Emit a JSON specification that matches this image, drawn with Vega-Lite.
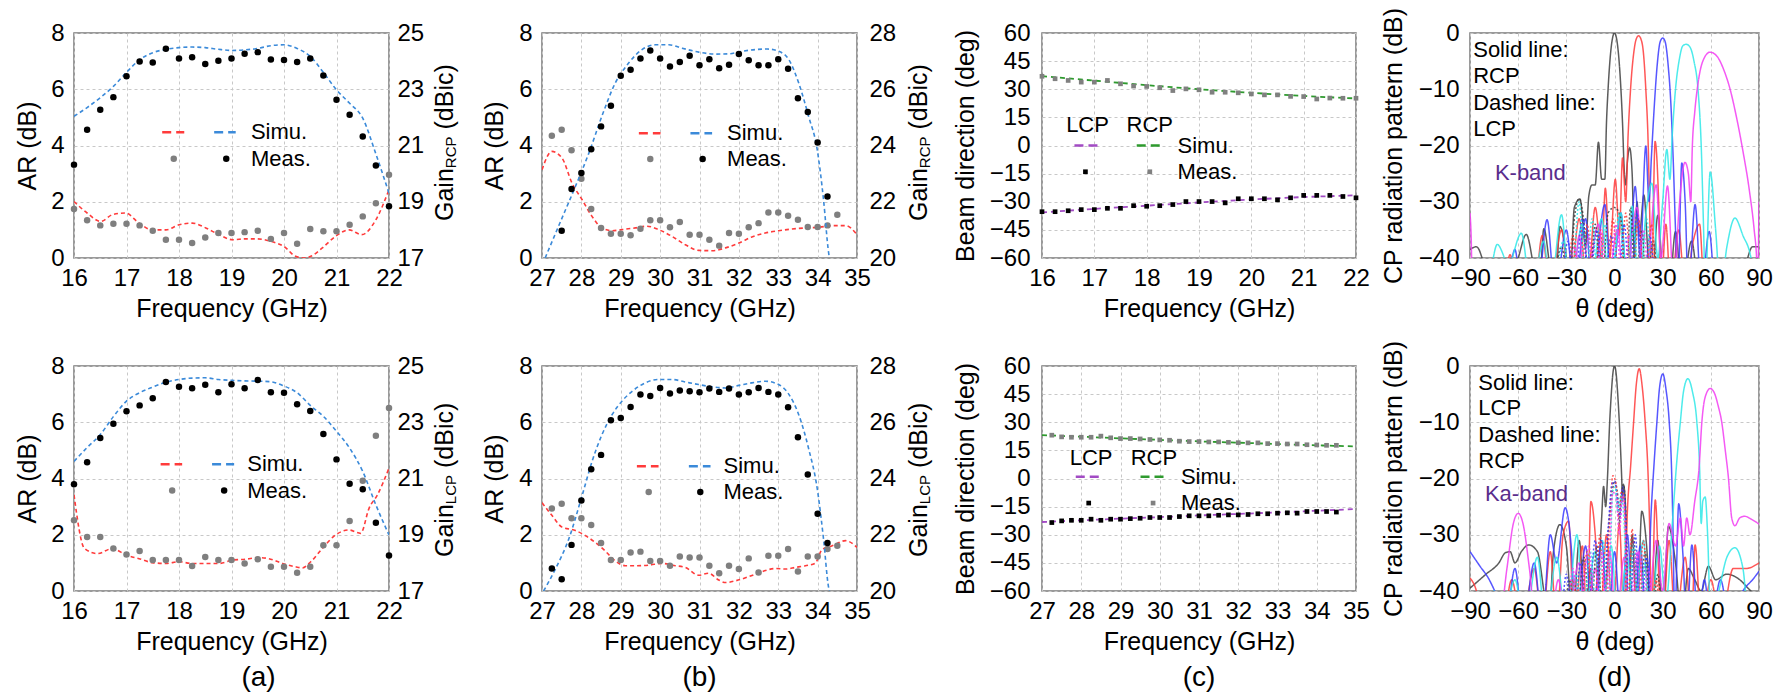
{
"$schema":"https://vega.github.io/schema/vega-lite/v6.json",
"background":"white",
"padding":{"left":14,"top":6,"right":5,"bottom":0},
"config":{
 "font":"Liberation Sans",
 "view":{"stroke":"#7a7a7a","strokeWidth":1.5},
 "axis":{"labelFontSize":24,"titleFontSize":25,"titleFontWeight":"normal","labelColor":"#000000","titleColor":"#000000","domain":false,"ticks":false,"tickSize":0,"grid":true,"gridColor":"#c8c8c8","gridDash":[3,3],"gridWidth":1,"labelFlush":false,"labelOverlap":false,"labelPadding":8,"titlePadding":6},
 "title":{"fontSize":28,"fontWeight":"normal","color":"#000000"}
},
"columns":7,
"spacing":{"row":108,"column":10},
"bounds":"flush",
"align":"each",
"concat":[
{"width":315,"height":225,
"encoding":{"x":{"field":"x","type":"quantitative","scale":{"domain":[16,22],"nice":false,"zero":false},"axis":{"title":"Frequency (GHz)","values":[16,17,18,19,20,21,22]}}},
"layer":[
{"encoding":{"y":{"field":"y","type":"quantitative","scale":{"domain":[0,8],"nice":false,"zero":false},"axis":{"title":"AR (dB)","values":[0,2,4,6,8],"labelPadding":10,"titlePadding":10}}},
"layer":[
{"data":{"values":[{"x":16,"y":2.01},{"x":16.25,"y":1.6},{"x":16.51,"y":1.3},{"x":16.73,"y":1.54},{"x":16.98,"y":1.6},{"x":17.24,"y":1.24},{"x":17.49,"y":1.0},{"x":17.75,"y":1.0},{"x":18.0,"y":1.18},{"x":18.25,"y":1.24},{"x":18.51,"y":1.07},{"x":18.76,"y":0.83},{"x":19.02,"y":0.65},{"x":19.27,"y":0.68},{"x":19.49,"y":0.68},{"x":19.75,"y":0.59},{"x":20.0,"y":0.41},{"x":20.22,"y":0.06},{"x":20.38,"y":0},{"x":20.51,"y":0.06},{"x":20.73,"y":0.36},{"x":20.98,"y":0.77},{"x":21.24,"y":1.0},{"x":21.48,"y":0.83},{"x":21.75,"y":1.36},{"x":22,"y":2.43}]},"mark":{"type":"line","color":"#ff3b3b","strokeDash":[4,3],"strokeWidth":1.6,"interpolate":"monotone","clip":true}},
{"data":{"values":[{"x":16,"y":1.74},{"x":16.25,"y":1.34},{"x":16.5,"y":1.16},{"x":16.75,"y":1.22},{"x":17,"y":1.22},{"x":17.25,"y":1.16},{"x":17.5,"y":0.97},{"x":17.75,"y":0.65},{"x":18,"y":0.65},{"x":18.25,"y":0.53},{"x":18.5,"y":0.73},{"x":18.75,"y":0.89},{"x":19,"y":0.89},{"x":19.25,"y":0.92},{"x":19.5,"y":0.97},{"x":19.75,"y":0.68},{"x":20,"y":0.89},{"x":20.25,"y":0.51},{"x":20.5,"y":1.03},{"x":20.75,"y":0.95},{"x":21,"y":0.95},{"x":21.25,"y":1.18},{"x":21.5,"y":1.48},{"x":21.75,"y":1.95},{"x":22,"y":2.96}]},"mark":{"type":"circle","color":"#7f7f7f","size":42,"opacity":1}},
{"data":{"values":[{"x":17.68,"x2":18.10,"y":4.47}]},"mark":{"type":"rule","color":"#ff3b3b","strokeDash":[9,5],"strokeWidth":2.5},"encoding":{"x2":{"field":"x2"}}},
{"data":{"values":[{"x":18.67,"x2":19.08,"y":4.47}]},"mark":{"type":"rule","color":"#3b8ad9","strokeDash":[9,5],"strokeWidth":2.5},"encoding":{"x2":{"field":"x2"}}},
{"data":{"values":[{"x":17.90,"y":3.53}]},"mark":{"type":"circle","color":"#7f7f7f","size":42,"opacity":1}},
{"data":{"values":[{"x":18.90,"y":3.53}]},"mark":{"type":"circle","color":"#000000","size":42,"opacity":1}},
{"data":{"values":[{"x":19.37,"y":4.47,"label":"Simu."},{"x":19.37,"y":3.53,"label":"Meas."}]},"mark":{"type":"text","align":"left","baseline":"middle","fontSize":22,"color":"#000000"},"encoding":{"text":{"field":"label"}}}
]},
{"encoding":{"y":{"field":"y","type":"quantitative","scale":{"domain":[17,25],"nice":false,"zero":false},"axis":{"orient":"right","title":null,"grid":false,"values":[17,19,21,23,25],"labelPadding":8}}},
"layer":[
{"data":{"values":[{"x":16,"y":22.04},{"x":16.25,"y":22.35},{"x":16.5,"y":22.7},{"x":16.75,"y":23.1},{"x":17,"y":23.6},{"x":17.25,"y":24.05},{"x":17.5,"y":24.3},{"x":17.75,"y":24.42},{"x":18,"y":24.48},{"x":18.25,"y":24.5},{"x":18.5,"y":24.48},{"x":18.75,"y":24.42},{"x":19,"y":24.38},{"x":19.25,"y":24.4},{"x":19.5,"y":24.45},{"x":19.75,"y":24.55},{"x":20,"y":24.58},{"x":20.25,"y":24.45},{"x":20.5,"y":24.17},{"x":20.75,"y":23.6},{"x":21,"y":22.98},{"x":21.25,"y":22.5},{"x":21.5,"y":21.97},{"x":21.75,"y":20.7},{"x":22,"y":19.3}]},"mark":{"type":"line","color":"#3b8ad9","strokeDash":[4,3],"strokeWidth":1.6,"interpolate":"monotone","clip":true}},
{"data":{"values":[{"x":16,"y":20.32},{"x":16.25,"y":21.56},{"x":16.5,"y":22.27},{"x":16.75,"y":22.72},{"x":17,"y":23.46},{"x":17.25,"y":23.99},{"x":17.5,"y":23.95},{"x":17.75,"y":24.44},{"x":18,"y":24.09},{"x":18.25,"y":24.14},{"x":18.5,"y":23.90},{"x":18.75,"y":24.01},{"x":19,"y":24.09},{"x":19.25,"y":24.26},{"x":19.5,"y":24.32},{"x":19.75,"y":24.06},{"x":20,"y":24.04},{"x":20.25,"y":23.97},{"x":20.5,"y":24.09},{"x":20.75,"y":23.49},{"x":21,"y":22.63},{"x":21.25,"y":22.09},{"x":21.5,"y":21.32},{"x":21.75,"y":20.29},{"x":22,"y":18.84}]},"mark":{"type":"circle","color":"#000000","size":42,"opacity":1}},
{"data":{"values":[{"x":23.067,"y":18.316,"label":"Gain"},{"x":23.067,"y":21.569,"label":"(dBic)"}]},"mark":{"type":"text","angle":270,"align":"left","baseline":"middle","fontSize":25,"color":"#000000"},"encoding":{"text":{"field":"label"}}},
{"data":{"values":[{"x":23.18,"y":20.193,"label":"RCP"}]},"mark":{"type":"text","angle":270,"align":"left","baseline":"middle","fontSize":15,"color":"#000000"},"encoding":{"text":{"field":"label"}}}
]}
],
"resolve":{"scale":{"y":"independent"}}
},
{"width":133,"height":225,"view":{"stroke":null},"data":{"values":[]},"mark":"point"},
{"width":315,"height":225,
"encoding":{"x":{"field":"x","type":"quantitative","scale":{"domain":[27,35],"nice":false,"zero":false},"axis":{"title":"Frequency (GHz)","values":[27,28,29,30,31,32,33,34,35]}}},
"layer":[
{"encoding":{"y":{"field":"y","type":"quantitative","scale":{"domain":[0,8],"nice":false,"zero":false},"axis":{"title":"AR (dB)","values":[0,2,4,6,8],"labelPadding":10,"titlePadding":11}}},
"layer":[
{"data":{"values":[{"x":27,"y":3.14},{"x":27.25,"y":3.79},{"x":27.51,"y":3.55},{"x":27.76,"y":2.67},{"x":28.02,"y":2.07},{"x":28.27,"y":1.48},{"x":28.52,"y":1.07},{"x":28.78,"y":0.97},{"x":29.03,"y":1.01},{"x":29.37,"y":1.07},{"x":29.67,"y":1.13},{"x":29.96,"y":1.01},{"x":30.3,"y":0.77},{"x":30.64,"y":0.47},{"x":30.98,"y":0.27},{"x":31.32,"y":0.26},{"x":31.66,"y":0.36},{"x":32.0,"y":0.53},{"x":32.33,"y":0.75},{"x":32.67,"y":0.89},{"x":33.01,"y":0.97},{"x":33.35,"y":1.03},{"x":33.69,"y":1.07},{"x":34.03,"y":1.09},{"x":34.37,"y":1.15},{"x":34.71,"y":1.15},{"x":35,"y":0.83}]},"mark":{"type":"line","color":"#ff3b3b","strokeDash":[4,3],"strokeWidth":1.6,"interpolate":"monotone","clip":true}},
{"data":{"values":[{"x":27.25,"y":4.35},{"x":27.5,"y":4.56},{"x":27.75,"y":3.83},{"x":28,"y":2.82},{"x":28.25,"y":1.74},{"x":28.5,"y":1.07},{"x":28.75,"y":0.86},{"x":29,"y":0.86},{"x":29.25,"y":0.81},{"x":29.5,"y":1.04},{"x":29.75,"y":1.34},{"x":30,"y":1.34},{"x":30.25,"y":1.09},{"x":30.5,"y":1.28},{"x":30.75,"y":0.83},{"x":31,"y":0.83},{"x":31.25,"y":0.65},{"x":31.5,"y":0.44},{"x":31.75,"y":0.89},{"x":32,"y":0.86},{"x":32.25,"y":1.09},{"x":32.5,"y":1.24},{"x":32.75,"y":1.62},{"x":33,"y":1.62},{"x":33.25,"y":1.50},{"x":33.5,"y":1.36},{"x":33.75,"y":1.10},{"x":34,"y":1.10},{"x":34.25,"y":1.16},{"x":34.5,"y":1.54}]},"mark":{"type":"circle","color":"#7f7f7f","size":42,"opacity":1}},
{"data":{"values":[{"x":29.46,"x2":30.01,"y":4.44}]},"mark":{"type":"rule","color":"#ff3b3b","strokeDash":[9,5],"strokeWidth":2.5},"encoding":{"x2":{"field":"x2"}}},
{"data":{"values":[{"x":30.77,"x2":31.32,"y":4.44}]},"mark":{"type":"rule","color":"#3b8ad9","strokeDash":[9,5],"strokeWidth":2.5},"encoding":{"x2":{"field":"x2"}}},
{"data":{"values":[{"x":29.75,"y":3.52}]},"mark":{"type":"circle","color":"#7f7f7f","size":42,"opacity":1}},
{"data":{"values":[{"x":31.08,"y":3.52}]},"mark":{"type":"circle","color":"#000000","size":42,"opacity":1}},
{"data":{"values":[{"x":31.70,"y":4.44,"label":"Simu."},{"x":31.70,"y":3.52,"label":"Meas."}]},"mark":{"type":"text","align":"left","baseline":"middle","fontSize":22,"color":"#000000"},"encoding":{"text":{"field":"label"}}}
]},
{"encoding":{"y":{"field":"y","type":"quantitative","scale":{"domain":[20,28],"nice":false,"zero":false},"axis":{"orient":"right","title":null,"grid":false,"values":[20,22,24,26,28],"labelPadding":12}}},
"layer":[
{"data":{"values":[{"x":27.08,"y":20.0},{"x":27.42,"y":21.13},{"x":27.85,"y":22.55},{"x":28.19,"y":23.73},{"x":28.52,"y":25.04},{"x":28.86,"y":26.22},{"x":29.2,"y":26.93},{"x":29.54,"y":27.41},{"x":29.88,"y":27.58},{"x":30.22,"y":27.58},{"x":30.56,"y":27.46},{"x":30.98,"y":27.32},{"x":31.4,"y":27.25},{"x":31.74,"y":27.26},{"x":32.08,"y":27.35},{"x":32.42,"y":27.41},{"x":32.72,"y":27.43},{"x":33.01,"y":27.35},{"x":33.27,"y":27.05},{"x":33.52,"y":26.22},{"x":33.77,"y":25.04},{"x":33.99,"y":23.85},{"x":34.15,"y":22.07},{"x":34.28,"y":20.18},{"x":34.3,"y":20.0}]},"mark":{"type":"line","color":"#3b8ad9","strokeDash":[4,3],"strokeWidth":1.6,"interpolate":"monotone","clip":true}},
{"data":{"values":[{"x":27.5,"y":20.97},{"x":27.75,"y":22.45},{"x":28,"y":23.02},{"x":28.25,"y":23.87},{"x":28.5,"y":24.68},{"x":28.75,"y":25.41},{"x":29,"y":26.48},{"x":29.25,"y":26.69},{"x":29.5,"y":27.09},{"x":29.75,"y":27.38},{"x":30,"y":27.09},{"x":30.25,"y":26.81},{"x":30.5,"y":26.97},{"x":30.75,"y":27.19},{"x":31,"y":26.85},{"x":31.25,"y":27.07},{"x":31.5,"y":26.75},{"x":31.75,"y":26.87},{"x":32,"y":27.25},{"x":32.25,"y":27.03},{"x":32.5,"y":26.85},{"x":32.75,"y":26.85},{"x":33,"y":27.07},{"x":33.25,"y":26.73},{"x":33.5,"y":25.68},{"x":33.75,"y":25.19},{"x":34,"y":24.11},{"x":34.25,"y":22.19}]},"mark":{"type":"circle","color":"#000000","size":42,"opacity":1}},
{"data":{"values":[{"x":36.575,"y":21.316,"label":"Gain"},{"x":36.575,"y":24.569,"label":"(dBic)"}]},"mark":{"type":"text","angle":270,"align":"left","baseline":"middle","fontSize":25,"color":"#000000"},"encoding":{"text":{"field":"label"}}},
{"data":{"values":[{"x":36.727,"y":23.193,"label":"RCP"}]},"mark":{"type":"text","angle":270,"align":"left","baseline":"middle","fontSize":15,"color":"#000000"},"encoding":{"text":{"field":"label"}}}
]}
],
"resolve":{"scale":{"y":"independent"}}
},
{"width":165,"height":225,"view":{"stroke":null},"data":{"values":[]},"mark":"point"},
{"width":314,"height":225,
"encoding":{"x":{"field":"x","type":"quantitative","scale":{"domain":[16,22],"nice":false,"zero":false},"axis":{"title":"Frequency (GHz)","values":[16,17,18,19,20,21,22]}},
"y":{"field":"y","type":"quantitative","scale":{"domain":[-60,60],"nice":false,"zero":false},"axis":{"title":"Beam direction (deg)","values":[-60,-45,-30,-15,0,15,30,45,60],"labelPadding":12,"titlePadding":11}}},
"layer":[
{"data":{"values":[{"x":16,"y":37},{"x":17,"y":34.6},{"x":18,"y":32.2},{"x":19,"y":30},{"x":20,"y":28.1},{"x":21,"y":26.4},{"x":22,"y":25.1}]},"mark":{"type":"line","color":"#2e9a2e","strokeDash":[5,4],"strokeWidth":1.8,"interpolate":"monotone"}},
{"data":{"values":[{"x":16,"y":-35.7},{"x":17,"y":-33.8},{"x":18,"y":-32.1},{"x":19,"y":-30.4},{"x":20,"y":-28.8},{"x":21,"y":-27.5},{"x":22,"y":-26.6}]},"mark":{"type":"line","color":"#a24bc4","strokeDash":[5,4],"strokeWidth":1.8,"interpolate":"monotone"}},
{"data":{"values":[{"x":16,"y":36.9},{"x":16.25,"y":35.6},{"x":16.5,"y":34.7},{"x":16.75,"y":33.8},{"x":17,"y":33.8},{"x":17.25,"y":34.7},{"x":17.5,"y":32.9},{"x":17.75,"y":31.7},{"x":18,"y":31.5},{"x":18.25,"y":30.8},{"x":18.5,"y":29.3},{"x":18.75,"y":30.2},{"x":19,"y":29.7},{"x":19.25,"y":28.4},{"x":19.5,"y":28.4},{"x":19.75,"y":28.1},{"x":20,"y":27.5},{"x":20.25,"y":27.0},{"x":20.5,"y":27.0},{"x":20.75,"y":26.2},{"x":21,"y":26.1},{"x":21.25,"y":24.8},{"x":21.5,"y":25.3},{"x":21.75,"y":25.2},{"x":22,"y":25.2}]},"mark":{"type":"square","color":"#808080","size":22,"opacity":1}},
{"data":{"values":[{"x":16,"y":-35.3},{"x":16.25,"y":-35.3},{"x":16.5,"y":-34.8},{"x":16.75,"y":-34.2},{"x":17,"y":-34.2},{"x":17.25,"y":-33.5},{"x":17.5,"y":-33.5},{"x":17.75,"y":-32.1},{"x":18,"y":-32.4},{"x":18.25,"y":-32.1},{"x":18.5,"y":-31.5},{"x":18.75,"y":-29.9},{"x":19,"y":-29.9},{"x":19.25,"y":-29.9},{"x":19.5,"y":-30.6},{"x":19.75,"y":-28.4},{"x":20,"y":-28.4},{"x":20.25,"y":-28.4},{"x":20.5,"y":-29.0},{"x":20.75,"y":-27.9},{"x":21,"y":-26.6},{"x":21.25,"y":-26.6},{"x":21.5,"y":-26.6},{"x":21.75,"y":-27.2},{"x":22,"y":-27.9}]},"mark":{"type":"square","color":"#000000","size":22,"opacity":1}},
{"data":{"values":[{"x":16.62,"x2":17.10,"y":0}]},"mark":{"type":"rule","color":"#a24bc4","strokeDash":[9,5],"strokeWidth":2.5},"encoding":{"x2":{"field":"x2"}}},
{"data":{"values":[{"x":17.81,"x2":18.33,"y":0}]},"mark":{"type":"rule","color":"#2e9a2e","strokeDash":[9,5],"strokeWidth":2.5},"encoding":{"x2":{"field":"x2"}}},
{"data":{"values":[{"x":16.83,"y":-14}]},"mark":{"type":"square","color":"#000000","size":22,"opacity":1}},
{"data":{"values":[{"x":18.06,"y":-14}]},"mark":{"type":"square","color":"#808080","size":22,"opacity":1}},
{"data":{"values":[{"x":16.87,"y":10.9,"label":"LCP"},{"x":18.06,"y":10.9,"label":"RCP"}]},"mark":{"type":"text","align":"center","baseline":"middle","fontSize":22,"color":"#000000"},"encoding":{"text":{"field":"label"}}},
{"data":{"values":[{"x":18.59,"y":0,"label":"Simu."},{"x":18.59,"y":-14,"label":"Meas."}]},"mark":{"type":"text","align":"left","baseline":"middle","fontSize":22,"color":"#000000"},"encoding":{"text":{"field":"label"}}}
]
},
{"width":94,"height":225,"view":{"stroke":null},"data":{"values":[]},"mark":"point"},
{"width":289,"height":225,
"encoding":{"x":{"field":"t","type":"quantitative","scale":{"domain":[-90,90],"nice":false,"zero":false},"axis":{"title":"θ (deg)","values":[-90,-60,-30,0,30,60,90]}},
"y":{"field":"v","type":"quantitative","scale":{"domain":[-40,0],"nice":false,"zero":false},"axis":{"title":"CP radiation pattern (dB)","values":[-40,-30,-20,-10,0],"labelPadding":11,"titlePadding":12}}},
"layer":[
{"data":{"values":[
{"t":-90,"v":-38.5,"c":"k","p":"co"},{"t":-86,"v":-38,"c":"k","p":"co"},{"t":-82,"v":-40.5,"c":"k","p":"co"},{"t":-78,"v":-46,"c":"k","p":"co"},{"t":-68,"v":-46,"c":"k","p":"co"},{"t":-60,"v":-40,"c":"k","p":"co"},{"t":-55,"v":-35.8,"c":"k","p":"co"},{"t":-50,"v":-42,"c":"k","p":"co"},{"t":-47,"v":-46,"c":"k","p":"co"},{"t":-44,"v":-34.8,"c":"k","p":"co"},{"t":-40,"v":-42,"c":"k","p":"co"},{"t":-37,"v":-46,"c":"k","p":"co"},{"t":-34,"v":-34.4,"c":"k","p":"co"},{"t":-30,"v":-40,"c":"k","p":"co"},{"t":-28,"v":-46,"c":"k","p":"co"},{"t":-25,"v":-31,"c":"k","p":"co"},{"t":-21.5,"v":-29.5,"c":"k","p":"co"},{"t":-18,"v":-38,"c":"k","p":"co"},{"t":-16,"v":-29,"c":"k","p":"co"},{"t":-14,"v":-27,"c":"k","p":"co"},{"t":-12,"v":-27,"c":"k","p":"co"},{"t":-10,"v":-19.4,"c":"k","p":"co"},{"t":-8,"v":-26,"c":"k","p":"co"},{"t":-6,"v":-26,"c":"k","p":"co"},{"t":-5,"v":-16,"c":"k","p":"co"},{"t":-4,"v":-10,"c":"k","p":"co"},{"t":-3,"v":-5.5,"c":"k","p":"co"},{"t":-2,"v":-2.4,"c":"k","p":"co"},{"t":-1,"v":-0.6,"c":"k","p":"co"},{"t":0,"v":0,"c":"k","p":"co"},{"t":1,"v":-0.6,"c":"k","p":"co"},{"t":2,"v":-2.4,"c":"k","p":"co"},{"t":3,"v":-5.5,"c":"k","p":"co"},{"t":4,"v":-10,"c":"k","p":"co"},{"t":5,"v":-16,"c":"k","p":"co"},{"t":6,"v":-24,"c":"k","p":"co"},{"t":7,"v":-27,"c":"k","p":"co"},{"t":8,"v":-23,"c":"k","p":"co"},{"t":9.4,"v":-20.4,"c":"k","p":"co"},{"t":11,"v":-25,"c":"k","p":"co"},{"t":12.5,"v":-40,"c":"k","p":"co"},{"t":14,"v":-30,"c":"k","p":"co"},{"t":15.5,"v":-36,"c":"k","p":"co"},{"t":18.3,"v":-28.8,"c":"k","p":"co"},{"t":21,"v":-40,"c":"k","p":"co"},{"t":23,"v":-46,"c":"k","p":"co"},{"t":27,"v":-32.4,"c":"k","p":"co"},{"t":31,"v":-46,"c":"k","p":"co"},{"t":34,"v":-46,"c":"k","p":"co"},{"t":38,"v":-35.3,"c":"k","p":"co"},{"t":42,"v":-46,"c":"k","p":"co"},{"t":48,"v":-37,"c":"k","p":"co"},{"t":53,"v":-46,"c":"k","p":"co"},{"t":57,"v":-40,"c":"k","p":"co"},{"t":62,"v":-46,"c":"k","p":"co"},{"t":78,"v":-46,"c":"k","p":"co"},{"t":82,"v":-41,"c":"k","p":"co"},{"t":86,"v":-38,"c":"k","p":"co"},{"t":90,"v":-38,"c":"k","p":"co"},
{"t":-90,"v":-46,"c":"r","p":"co"},{"t":-70,"v":-46,"c":"r","p":"co"},{"t":-65,"v":-39.4,"c":"r","p":"co"},{"t":-61,"v":-46,"c":"r","p":"co"},{"t":-50,"v":-46,"c":"r","p":"co"},{"t":-45,"v":-36,"c":"r","p":"co"},{"t":-40,"v":-46,"c":"r","p":"co"},{"t":-33,"v":-35,"c":"r","p":"co"},{"t":-28,"v":-46,"c":"r","p":"co"},{"t":-22,"v":-33,"c":"r","p":"co"},{"t":-17,"v":-46,"c":"r","p":"co"},{"t":-12,"v":-31,"c":"r","p":"co"},{"t":-8,"v":-40,"c":"r","p":"co"},{"t":-5.7,"v":-27.6,"c":"r","p":"co"},{"t":-3,"v":-40,"c":"r","p":"co"},{"t":0.5,"v":-26,"c":"r","p":"co"},{"t":3,"v":-36,"c":"r","p":"co"},{"t":5,"v":-22.2,"c":"r","p":"co"},{"t":7,"v":-30,"c":"r","p":"co"},{"t":8.5,"v":-18,"c":"r","p":"co"},{"t":10,"v":-10,"c":"r","p":"co"},{"t":12,"v":-3.5,"c":"r","p":"co"},{"t":13.5,"v":-1.1,"c":"r","p":"co"},{"t":15,"v":-0.5,"c":"r","p":"co"},{"t":16.5,"v":-1.1,"c":"r","p":"co"},{"t":18,"v":-3.5,"c":"r","p":"co"},{"t":19.5,"v":-10,"c":"r","p":"co"},{"t":21,"v":-20,"c":"r","p":"co"},{"t":22,"v":-33,"c":"r","p":"co"},{"t":23,"v":-46,"c":"r","p":"co"},{"t":25.3,"v":-19.3,"c":"r","p":"co"},{"t":27.5,"v":-30,"c":"r","p":"co"},{"t":29,"v":-46,"c":"r","p":"co"},{"t":32,"v":-34,"c":"r","p":"co"},{"t":35,"v":-46,"c":"r","p":"co"},{"t":40,"v":-35,"c":"r","p":"co"},{"t":44,"v":-46,"c":"r","p":"co"},{"t":49,"v":-37,"c":"r","p":"co"},{"t":53,"v":-34,"c":"r","p":"co"},{"t":56,"v":-46,"c":"r","p":"co"},{"t":90,"v":-46,"c":"r","p":"co"},
{"t":-90,"v":-46,"c":"b","p":"co"},{"t":-68,"v":-46,"c":"b","p":"co"},{"t":-62,"v":-38.5,"c":"b","p":"co"},{"t":-58,"v":-46,"c":"b","p":"co"},{"t":-48,"v":-46,"c":"b","p":"co"},{"t":-42,"v":-33.2,"c":"b","p":"co"},{"t":-37,"v":-46,"c":"b","p":"co"},{"t":-30,"v":-35,"c":"b","p":"co"},{"t":-25,"v":-46,"c":"b","p":"co"},{"t":-18,"v":-33,"c":"b","p":"co"},{"t":-14,"v":-46,"c":"b","p":"co"},{"t":-6,"v":-30.5,"c":"b","p":"co"},{"t":-2,"v":-46,"c":"b","p":"co"},{"t":4,"v":-32,"c":"b","p":"co"},{"t":8,"v":-46,"c":"b","p":"co"},{"t":12.9,"v":-27.3,"c":"b","p":"co"},{"t":16,"v":-40,"c":"b","p":"co"},{"t":19.5,"v":-20.1,"c":"b","p":"co"},{"t":21.5,"v":-30,"c":"b","p":"co"},{"t":23,"v":-22,"c":"b","p":"co"},{"t":25,"v":-12,"c":"b","p":"co"},{"t":26.5,"v":-6,"c":"b","p":"co"},{"t":28.5,"v":-1.5,"c":"b","p":"co"},{"t":30,"v":-0.9,"c":"b","p":"co"},{"t":31.5,"v":-1.5,"c":"b","p":"co"},{"t":33.5,"v":-6,"c":"b","p":"co"},{"t":35,"v":-12,"c":"b","p":"co"},{"t":36.5,"v":-22,"c":"b","p":"co"},{"t":38,"v":-35,"c":"b","p":"co"},{"t":39.5,"v":-46,"c":"b","p":"co"},{"t":41.9,"v":-23.1,"c":"b","p":"co"},{"t":44,"v":-30,"c":"b","p":"co"},{"t":46,"v":-46,"c":"b","p":"co"},{"t":50.2,"v":-30.5,"c":"b","p":"co"},{"t":54,"v":-46,"c":"b","p":"co"},{"t":59,"v":-35.3,"c":"b","p":"co"},{"t":63,"v":-46,"c":"b","p":"co"},{"t":90,"v":-46,"c":"b","p":"co"},
{"t":-90,"v":-46,"c":"c","p":"co"},{"t":-80,"v":-46,"c":"c","p":"co"},{"t":-73,"v":-37.6,"c":"c","p":"co"},{"t":-66,"v":-41,"c":"c","p":"co"},{"t":-58,"v":-35.6,"c":"c","p":"co"},{"t":-52,"v":-46,"c":"c","p":"co"},{"t":-44,"v":-37,"c":"c","p":"co"},{"t":-40,"v":-46,"c":"c","p":"co"},{"t":-33,"v":-32.3,"c":"c","p":"co"},{"t":-28,"v":-46,"c":"c","p":"co"},{"t":-20,"v":-34,"c":"c","p":"co"},{"t":-15,"v":-46,"c":"c","p":"co"},{"t":-8,"v":-33,"c":"c","p":"co"},{"t":-3,"v":-46,"c":"c","p":"co"},{"t":4,"v":-32,"c":"c","p":"co"},{"t":8,"v":-46,"c":"c","p":"co"},{"t":11,"v":-30.8,"c":"c","p":"co"},{"t":15,"v":-46,"c":"c","p":"co"},{"t":20,"v":-31,"c":"c","p":"co"},{"t":23.2,"v":-26.7,"c":"c","p":"co"},{"t":27,"v":-40,"c":"c","p":"co"},{"t":30,"v":-30,"c":"c","p":"co"},{"t":32.6,"v":-20.7,"c":"c","p":"co"},{"t":34.5,"v":-26,"c":"c","p":"co"},{"t":36,"v":-18,"c":"c","p":"co"},{"t":38,"v":-10,"c":"c","p":"co"},{"t":40.5,"v":-4.5,"c":"c","p":"co"},{"t":42.5,"v":-2.3,"c":"c","p":"co"},{"t":44.6,"v":-2,"c":"c","p":"co"},{"t":47,"v":-2.5,"c":"c","p":"co"},{"t":49.5,"v":-5,"c":"c","p":"co"},{"t":52,"v":-10,"c":"c","p":"co"},{"t":54,"v":-20,"c":"c","p":"co"},{"t":55.5,"v":-35,"c":"c","p":"co"},{"t":56.5,"v":-46,"c":"c","p":"co"},{"t":59.6,"v":-24.7,"c":"c","p":"co"},{"t":63,"v":-35,"c":"c","p":"co"},{"t":66,"v":-46,"c":"c","p":"co"},{"t":70,"v":-38,"c":"c","p":"co"},{"t":75,"v":-32.9,"c":"c","p":"co"},{"t":80,"v":-36,"c":"c","p":"co"},{"t":85,"v":-40,"c":"c","p":"co"},{"t":88,"v":-46,"c":"c","p":"co"},{"t":90,"v":-46,"c":"c","p":"co"},
{"t":-90,"v":-32,"c":"m","p":"co"},{"t":-89.3,"v":-36,"c":"m","p":"co"},{"t":-88.5,"v":-46,"c":"m","p":"co"},{"t":-50,"v":-46,"c":"m","p":"co"},{"t":-44,"v":-40,"c":"m","p":"co"},{"t":-38,"v":-46,"c":"m","p":"co"},{"t":-26,"v":-46,"c":"m","p":"co"},{"t":-22,"v":-36,"c":"m","p":"co"},{"t":-18,"v":-46,"c":"m","p":"co"},{"t":-10,"v":-34,"c":"m","p":"co"},{"t":-5,"v":-46,"c":"m","p":"co"},{"t":2,"v":-35,"c":"m","p":"co"},{"t":6,"v":-46,"c":"m","p":"co"},{"t":14,"v":-31,"c":"m","p":"co"},{"t":19,"v":-46,"c":"m","p":"co"},{"t":26,"v":-27,"c":"m","p":"co"},{"t":29,"v":-40,"c":"m","p":"co"},{"t":33,"v":-27.2,"c":"m","p":"co"},{"t":37,"v":-46,"c":"m","p":"co"},{"t":40,"v":-32,"c":"m","p":"co"},{"t":43.9,"v":-23,"c":"m","p":"co"},{"t":46,"v":-25,"c":"m","p":"co"},{"t":47.5,"v":-30,"c":"m","p":"co"},{"t":48.5,"v":-20,"c":"m","p":"co"},{"t":50,"v":-14,"c":"m","p":"co"},{"t":52,"v":-9,"c":"m","p":"co"},{"t":55,"v":-5,"c":"m","p":"co"},{"t":59.5,"v":-3.4,"c":"m","p":"co"},{"t":64,"v":-4.2,"c":"m","p":"co"},{"t":68,"v":-6.5,"c":"m","p":"co"},{"t":72,"v":-10,"c":"m","p":"co"},{"t":76,"v":-15,"c":"m","p":"co"},{"t":80,"v":-21,"c":"m","p":"co"},{"t":84,"v":-28,"c":"m","p":"co"},{"t":87,"v":-35,"c":"m","p":"co"},{"t":88.5,"v":-40,"c":"m","p":"co"},{"t":89.3,"v":-46,"c":"m","p":"co"},{"t":89.8,"v":-35,"c":"m","p":"co"},{"t":90,"v":-30,"c":"m","p":"co"},
{"t":-90,"v":-46,"c":"k","p":"x"},{"t":-40,"v":-46,"c":"k","p":"x"},{"t":-33,"v":-38,"c":"k","p":"x"},{"t":-28,"v":-46,"c":"k","p":"x"},{"t":-25,"v":-33,"c":"k","p":"x"},{"t":-22,"v":-29.5,"c":"k","p":"x"},{"t":-19,"v":-34,"c":"k","p":"x"},{"t":-16,"v":-46,"c":"k","p":"x"},{"t":-12,"v":-34,"c":"k","p":"x"},{"t":-8,"v":-46,"c":"k","p":"x"},{"t":-4,"v":-32,"c":"k","p":"x"},{"t":0,"v":-31,"c":"k","p":"x"},{"t":4,"v":-33,"c":"k","p":"x"},{"t":7,"v":-46,"c":"k","p":"x"},{"t":10,"v":-31,"c":"k","p":"x"},{"t":13,"v":-46,"c":"k","p":"x"},{"t":17,"v":-35,"c":"k","p":"x"},{"t":20,"v":-46,"c":"k","p":"x"},{"t":24,"v":-37,"c":"k","p":"x"},{"t":28,"v":-46,"c":"k","p":"x"},{"t":90,"v":-46,"c":"k","p":"x"},
{"t":-90,"v":-46,"c":"r","p":"x"},{"t":-30,"v":-46,"c":"r","p":"x"},{"t":-26,"v":-36,"c":"r","p":"x"},{"t":-22,"v":-46,"c":"r","p":"x"},{"t":-17,"v":-34,"c":"r","p":"x"},{"t":-13,"v":-46,"c":"r","p":"x"},{"t":-9,"v":-35,"c":"r","p":"x"},{"t":-5,"v":-46,"c":"r","p":"x"},{"t":-1,"v":-33,"c":"r","p":"x"},{"t":3,"v":-46,"c":"r","p":"x"},{"t":7,"v":-32,"c":"r","p":"x"},{"t":11,"v":-46,"c":"r","p":"x"},{"t":15,"v":-33,"c":"r","p":"x"},{"t":19,"v":-46,"c":"r","p":"x"},{"t":23,"v":-34,"c":"r","p":"x"},{"t":27,"v":-46,"c":"r","p":"x"},{"t":90,"v":-46,"c":"r","p":"x"},
{"t":-90,"v":-46,"c":"b","p":"x"},{"t":-34,"v":-46,"c":"b","p":"x"},{"t":-29,"v":-37,"c":"b","p":"x"},{"t":-25,"v":-46,"c":"b","p":"x"},{"t":-20,"v":-33,"c":"b","p":"x"},{"t":-16,"v":-46,"c":"b","p":"x"},{"t":-11,"v":-35,"c":"b","p":"x"},{"t":-7,"v":-46,"c":"b","p":"x"},{"t":-2,"v":-36,"c":"b","p":"x"},{"t":2,"v":-46,"c":"b","p":"x"},{"t":6,"v":-34,"c":"b","p":"x"},{"t":10,"v":-46,"c":"b","p":"x"},{"t":14,"v":-32,"c":"b","p":"x"},{"t":18,"v":-46,"c":"b","p":"x"},{"t":22,"v":-36,"c":"b","p":"x"},{"t":26,"v":-46,"c":"b","p":"x"},{"t":90,"v":-46,"c":"b","p":"x"},
{"t":-90,"v":-46,"c":"c","p":"x"},{"t":-38,"v":-46,"c":"c","p":"x"},{"t":-32,"v":-37,"c":"c","p":"x"},{"t":-27,"v":-46,"c":"c","p":"x"},{"t":-22,"v":-30,"c":"c","p":"x"},{"t":-18,"v":-46,"c":"c","p":"x"},{"t":-14,"v":-33,"c":"c","p":"x"},{"t":-10,"v":-46,"c":"c","p":"x"},{"t":-6,"v":-34,"c":"c","p":"x"},{"t":-2,"v":-46,"c":"c","p":"x"},{"t":3,"v":-32,"c":"c","p":"x"},{"t":7,"v":-46,"c":"c","p":"x"},{"t":12,"v":-35,"c":"c","p":"x"},{"t":16,"v":-46,"c":"c","p":"x"},{"t":20,"v":-33,"c":"c","p":"x"},{"t":24,"v":-46,"c":"c","p":"x"},{"t":90,"v":-46,"c":"c","p":"x"},
{"t":-90,"v":-46,"c":"m","p":"x"},{"t":-30,"v":-46,"c":"m","p":"x"},{"t":-25,"v":-38,"c":"m","p":"x"},{"t":-21,"v":-46,"c":"m","p":"x"},{"t":-16,"v":-36,"c":"m","p":"x"},{"t":-12,"v":-46,"c":"m","p":"x"},{"t":-8,"v":-35,"c":"m","p":"x"},{"t":-4,"v":-46,"c":"m","p":"x"},{"t":1,"v":-34,"c":"m","p":"x"},{"t":5,"v":-46,"c":"m","p":"x"},{"t":9,"v":-36,"c":"m","p":"x"},{"t":13,"v":-46,"c":"m","p":"x"},{"t":18,"v":-35,"c":"m","p":"x"},{"t":22,"v":-46,"c":"m","p":"x"},{"t":90,"v":-46,"c":"m","p":"x"}
]},
"mark":{"type":"line","strokeWidth":1.5,"clip":true,"interpolate":"monotone","opacity":0.85},
"encoding":{"color":{"field":"c","type":"nominal","scale":{"domain":["k","r","b","c","m"],"range":["#404040","#ff3a3a","#3a3aff","#2ee8e8","#f23cf2"]},"legend":null},
"strokeDash":{"field":"p","type":"nominal","scale":{"domain":["co","x"],"range":[[1,0],[2,2]]},"legend":null}}},
{"data":{"values":[{"t":-88,"v":-3.1,"label":"Solid line:"},{"t":-88,"v":-7.6,"label":"RCP"},{"t":-88,"v":-12.4,"label":"Dashed line:"},{"t":-88,"v":-17.1,"label":"LCP"}]},"mark":{"type":"text","align":"left","baseline":"middle","fontSize":22,"color":"#000000"},"encoding":{"text":{"field":"label"}}},
{"data":{"values":[{"t":-74.5,"v":-24.9,"label":"K-band"}]},"mark":{"type":"text","align":"left","baseline":"middle","fontSize":22,"color":"#5a2d8c"},"encoding":{"text":{"field":"label"}}}
]
},
{"width":315,"height":225,
"title":{"text":"(a)","orient":"bottom","anchor":"middle","frame":"group","offset":10,"dx":27,"fontSize":28,"fontWeight":"normal"},
"encoding":{"x":{"field":"x","type":"quantitative","scale":{"domain":[16,22],"nice":false,"zero":false},"axis":{"title":"Frequency (GHz)","values":[16,17,18,19,20,21,22]}}},
"layer":[
{"encoding":{"y":{"field":"y","type":"quantitative","scale":{"domain":[0,8],"nice":false,"zero":false},"axis":{"title":"AR (dB)","values":[0,2,4,6,8],"labelPadding":10,"titlePadding":10}}},
"layer":[
{"data":{"values":[{"x":16,"y":3.42},{"x":16.2,"y":1.51},{"x":16.45,"y":1.33},{"x":16.73,"y":1.51},{"x":17.0,"y":1.27},{"x":17.24,"y":1.15},{"x":17.49,"y":1.01},{"x":17.75,"y":0.98},{"x":18,"y":1.04},{"x":18.25,"y":0.98},{"x":18.51,"y":0.98},{"x":18.76,"y":0.98},{"x":19.02,"y":1.10},{"x":19.27,"y":1.13},{"x":19.5,"y":1.19},{"x":19.71,"y":1.15},{"x":19.97,"y":0.98},{"x":20.22,"y":0.86},{"x":20.35,"y":0.82},{"x":20.51,"y":1.04},{"x":20.73,"y":1.51},{"x":20.98,"y":1.99},{"x":21.24,"y":2.17},{"x":21.46,"y":2.05},{"x":21.62,"y":2.94},{"x":21.78,"y":3.42},{"x":22,"y":4.37}]},"mark":{"type":"line","color":"#ff3b3b","strokeDash":[4,3],"strokeWidth":1.6,"interpolate":"monotone","clip":true}},
{"data":{"values":[{"x":16,"y":2.52},{"x":16.25,"y":1.92},{"x":16.5,"y":1.92},{"x":16.75,"y":1.51},{"x":17,"y":1.30},{"x":17.25,"y":1.42},{"x":17.5,"y":1.10},{"x":17.75,"y":1.10},{"x":18,"y":1.10},{"x":18.25,"y":0.89},{"x":18.5,"y":1.21},{"x":18.75,"y":1.10},{"x":19,"y":1.10},{"x":19.25,"y":0.98},{"x":19.5,"y":1.13},{"x":19.75,"y":0.86},{"x":20,"y":0.86},{"x":20.25,"y":0.65},{"x":20.5,"y":0.86},{"x":20.75,"y":1.63},{"x":21,"y":1.63},{"x":21.25,"y":2.49},{"x":21.5,"y":3.92},{"x":21.75,"y":5.52},{"x":22,"y":6.51}]},"mark":{"type":"circle","color":"#7f7f7f","size":42,"opacity":1}},
{"data":{"values":[{"x":17.65,"x2":18.06,"y":4.51}]},"mark":{"type":"rule","color":"#ff3b3b","strokeDash":[9,5],"strokeWidth":2.5},"encoding":{"x2":{"field":"x2"}}},
{"data":{"values":[{"x":18.63,"x2":19.05,"y":4.51}]},"mark":{"type":"rule","color":"#3b8ad9","strokeDash":[9,5],"strokeWidth":2.5},"encoding":{"x2":{"field":"x2"}}},
{"data":{"values":[{"x":17.87,"y":3.57}]},"mark":{"type":"circle","color":"#7f7f7f","size":42,"opacity":1}},
{"data":{"values":[{"x":18.86,"y":3.57}]},"mark":{"type":"circle","color":"#000000","size":42,"opacity":1}},
{"data":{"values":[{"x":19.30,"y":4.51,"label":"Simu."},{"x":19.30,"y":3.57,"label":"Meas."}]},"mark":{"type":"text","align":"left","baseline":"middle","fontSize":22,"color":"#000000"},"encoding":{"text":{"field":"label"}}}
]},
{"encoding":{"y":{"field":"y","type":"quantitative","scale":{"domain":[17,25],"nice":false,"zero":false},"axis":{"orient":"right","title":null,"grid":false,"values":[17,19,21,23,25],"labelPadding":8}}},
"layer":[
{"data":{"values":[{"x":16,"y":21.61},{"x":16.25,"y":22.1},{"x":16.5,"y":22.56},{"x":16.75,"y":23.2},{"x":17,"y":23.75},{"x":17.25,"y":24.05},{"x":17.5,"y":24.25},{"x":17.75,"y":24.42},{"x":18,"y":24.52},{"x":18.25,"y":24.57},{"x":18.5,"y":24.58},{"x":18.75,"y":24.52},{"x":19,"y":24.49},{"x":19.25,"y":24.47},{"x":19.5,"y":24.46},{"x":19.75,"y":24.44},{"x":20,"y":24.29},{"x":20.25,"y":24.05},{"x":20.5,"y":23.6},{"x":20.75,"y":23.21},{"x":21,"y":22.68},{"x":21.25,"y":22.08},{"x":21.5,"y":21.25},{"x":21.75,"y":20.06},{"x":22,"y":18.99}]},"mark":{"type":"line","color":"#3b8ad9","strokeDash":[4,3],"strokeWidth":1.6,"interpolate":"monotone","clip":true}},
{"data":{"values":[{"x":16,"y":20.80},{"x":16.25,"y":21.58},{"x":16.5,"y":22.44},{"x":16.75,"y":22.95},{"x":17,"y":23.39},{"x":17.25,"y":23.60},{"x":17.5,"y":23.85},{"x":17.75,"y":24.43},{"x":18,"y":24.26},{"x":18.25,"y":24.21},{"x":18.5,"y":24.33},{"x":18.75,"y":24.07},{"x":19,"y":24.35},{"x":19.25,"y":24.21},{"x":19.5,"y":24.50},{"x":19.75,"y":24.07},{"x":20,"y":24.05},{"x":20.25,"y":23.64},{"x":20.5,"y":23.40},{"x":20.75,"y":22.58},{"x":21,"y":21.68},{"x":21.25,"y":20.81},{"x":21.5,"y":20.62},{"x":21.75,"y":19.43},{"x":22,"y":18.26}]},"mark":{"type":"circle","color":"#000000","size":42,"opacity":1}},
{"data":{"values":[{"x":23.067,"y":18.209,"label":"Gain"},{"x":23.067,"y":21.373,"label":"(dBic)"}]},"mark":{"type":"text","angle":270,"align":"left","baseline":"middle","fontSize":25,"color":"#000000"},"encoding":{"text":{"field":"label"}}},
{"data":{"values":[{"x":23.18,"y":20.086,"label":"LCP"}]},"mark":{"type":"text","angle":270,"align":"left","baseline":"middle","fontSize":15,"color":"#000000"},"encoding":{"text":{"field":"label"}}}
]}
],
"resolve":{"scale":{"y":"independent"}}
},
{"width":133,"height":225,"view":{"stroke":null},"data":{"values":[]},"mark":"point"},
{"width":315,"height":225,
"title":{"text":"(b)","orient":"bottom","anchor":"middle","frame":"group","offset":10,"fontSize":28,"fontWeight":"normal"},
"encoding":{"x":{"field":"x","type":"quantitative","scale":{"domain":[27,35],"nice":false,"zero":false},"axis":{"title":"Frequency (GHz)","values":[27,28,29,30,31,32,33,34,35]}}},
"layer":[
{"encoding":{"y":{"field":"y","type":"quantitative","scale":{"domain":[0,8],"nice":false,"zero":false},"axis":{"title":"AR (dB)","values":[0,2,4,6,8],"labelPadding":10,"titlePadding":11}}},
"layer":[
{"data":{"values":[{"x":27,"y":3.14},{"x":27.25,"y":2.69},{"x":27.51,"y":2.27},{"x":27.85,"y":2.15},{"x":28.1,"y":1.97},{"x":28.35,"y":1.73},{"x":28.6,"y":1.43},{"x":28.86,"y":1.07},{"x":29.12,"y":0.90},{"x":29.37,"y":0.90},{"x":29.71,"y":0.92},{"x":30.05,"y":0.98},{"x":30.39,"y":0.90},{"x":30.64,"y":0.84},{"x":30.98,"y":0.56},{"x":31.23,"y":0.63},{"x":31.49,"y":0.39},{"x":31.66,"y":0.30},{"x":31.91,"y":0.36},{"x":32.25,"y":0.51},{"x":32.59,"y":0.69},{"x":32.93,"y":0.80},{"x":33.18,"y":0.78},{"x":33.44,"y":0.84},{"x":33.69,"y":0.90},{"x":33.94,"y":0.99},{"x":34.11,"y":1.47},{"x":34.37,"y":1.61},{"x":34.71,"y":1.79},{"x":35,"y":1.55}]},"mark":{"type":"line","color":"#ff3b3b","strokeDash":[4,3],"strokeWidth":1.6,"interpolate":"monotone","clip":true}},
{"data":{"values":[{"x":27.25,"y":2.93},{"x":27.5,"y":3.10},{"x":27.75,"y":2.59},{"x":28,"y":2.59},{"x":28.25,"y":2.35},{"x":28.5,"y":1.71},{"x":28.75,"y":1.10},{"x":29,"y":1.10},{"x":29.25,"y":1.37},{"x":29.5,"y":1.40},{"x":29.75,"y":1.07},{"x":30,"y":1.07},{"x":30.25,"y":0.90},{"x":30.5,"y":1.23},{"x":30.75,"y":1.19},{"x":31,"y":1.19},{"x":31.25,"y":0.90},{"x":31.5,"y":0.63},{"x":31.75,"y":0.90},{"x":32,"y":0.78},{"x":32.25,"y":1.16},{"x":32.5,"y":0.66},{"x":32.75,"y":1.25},{"x":33,"y":1.25},{"x":33.25,"y":1.49},{"x":33.5,"y":0.69},{"x":33.75,"y":1.23},{"x":34,"y":1.23},{"x":34.25,"y":1.49},{"x":34.5,"y":1.61}]},"mark":{"type":"circle","color":"#7f7f7f","size":42,"opacity":1}},
{"data":{"values":[{"x":29.41,"x2":29.96,"y":4.44}]},"mark":{"type":"rule","color":"#ff3b3b","strokeDash":[9,5],"strokeWidth":2.5},"encoding":{"x2":{"field":"x2"}}},
{"data":{"values":[{"x":30.73,"x2":31.28,"y":4.44}]},"mark":{"type":"rule","color":"#3b8ad9","strokeDash":[9,5],"strokeWidth":2.5},"encoding":{"x2":{"field":"x2"}}},
{"data":{"values":[{"x":29.71,"y":3.52}]},"mark":{"type":"circle","color":"#7f7f7f","size":42,"opacity":1}},
{"data":{"values":[{"x":31.02,"y":3.52}]},"mark":{"type":"circle","color":"#000000","size":42,"opacity":1}},
{"data":{"values":[{"x":31.61,"y":4.44,"label":"Simu."},{"x":31.61,"y":3.52,"label":"Meas."}]},"mark":{"type":"text","align":"left","baseline":"middle","fontSize":22,"color":"#000000"},"encoding":{"text":{"field":"label"}}}
]},
{"encoding":{"y":{"field":"y","type":"quantitative","scale":{"domain":[20,28],"nice":false,"zero":false},"axis":{"orient":"right","title":null,"grid":false,"values":[20,22,24,26,28],"labelPadding":12}}},
"layer":[
{"data":{"values":[{"x":27.04,"y":20},{"x":27.34,"y":20.78},{"x":27.68,"y":21.85},{"x":28.02,"y":23.40},{"x":28.27,"y":24.60},{"x":28.52,"y":25.55},{"x":28.78,"y":26.27},{"x":29.03,"y":26.75},{"x":29.29,"y":27.10},{"x":29.62,"y":27.40},{"x":29.96,"y":27.52},{"x":30.3,"y":27.52},{"x":30.64,"y":27.43},{"x":30.98,"y":27.34},{"x":31.32,"y":27.26},{"x":31.66,"y":27.22},{"x":32.0,"y":27.31},{"x":32.33,"y":27.40},{"x":32.67,"y":27.46},{"x":33.01,"y":27.34},{"x":33.27,"y":26.99},{"x":33.52,"y":26.27},{"x":33.77,"y":25.07},{"x":33.99,"y":23.64},{"x":34.15,"y":21.85},{"x":34.28,"y":20.12},{"x":34.3,"y":20}]},"mark":{"type":"line","color":"#3b8ad9","strokeDash":[4,3],"strokeWidth":1.6,"interpolate":"monotone","clip":true}},
{"data":{"values":[{"x":27.25,"y":20.80},{"x":27.5,"y":20.42},{"x":27.75,"y":21.64},{"x":28,"y":23.22},{"x":28.25,"y":24.33},{"x":28.5,"y":24.84},{"x":28.75,"y":26.07},{"x":29,"y":26.15},{"x":29.25,"y":26.54},{"x":29.5,"y":26.99},{"x":29.75,"y":26.93},{"x":30,"y":27.22},{"x":30.25,"y":27.02},{"x":30.5,"y":27.13},{"x":30.75,"y":27.10},{"x":31,"y":27.07},{"x":31.25,"y":27.20},{"x":31.5,"y":27.08},{"x":31.75,"y":27.20},{"x":32,"y":26.99},{"x":32.25,"y":27.07},{"x":32.5,"y":27.22},{"x":32.75,"y":27.08},{"x":33,"y":26.99},{"x":33.25,"y":26.53},{"x":33.5,"y":25.47},{"x":33.75,"y":24.14},{"x":34,"y":22.75},{"x":34.25,"y":21.71}]},"mark":{"type":"circle","color":"#000000","size":42,"opacity":1}},
{"data":{"values":[{"x":36.575,"y":21.209,"label":"Gain"},{"x":36.575,"y":24.373,"label":"(dBic)"}]},"mark":{"type":"text","angle":270,"align":"left","baseline":"middle","fontSize":25,"color":"#000000"},"encoding":{"text":{"field":"label"}}},
{"data":{"values":[{"x":36.727,"y":23.086,"label":"LCP"}]},"mark":{"type":"text","angle":270,"align":"left","baseline":"middle","fontSize":15,"color":"#000000"},"encoding":{"text":{"field":"label"}}}
]}
],
"resolve":{"scale":{"y":"independent"}}
},
{"width":165,"height":225,"view":{"stroke":null},"data":{"values":[]},"mark":"point"},
{"width":314,"height":225,
"title":{"text":"(c)","orient":"bottom","anchor":"middle","frame":"group","offset":10,"fontSize":28,"fontWeight":"normal"},
"encoding":{"x":{"field":"x","type":"quantitative","scale":{"domain":[27,35],"nice":false,"zero":false},"axis":{"title":"Frequency (GHz)","values":[27,28,29,30,31,32,33,34,35]}},
"y":{"field":"y","type":"quantitative","scale":{"domain":[-60,60],"nice":false,"zero":false},"axis":{"title":"Beam direction (deg)","values":[-60,-45,-30,-15,0,15,30,45,60],"labelPadding":12,"titlePadding":11}}},
"layer":[
{"data":{"values":[{"x":27,"y":23.1},{"x":28,"y":22.3},{"x":29,"y":21.4},{"x":30,"y":20.6},{"x":31,"y":19.8},{"x":32,"y":19.1},{"x":33,"y":18.4},{"x":34,"y":17.7},{"x":35,"y":17.1}]},"mark":{"type":"line","color":"#2e9a2e","strokeDash":[5,4],"strokeWidth":1.8,"interpolate":"monotone"}},
{"data":{"values":[{"x":27,"y":-23.2},{"x":28,"y":-22.3},{"x":29,"y":-21.4},{"x":30,"y":-20.6},{"x":31,"y":-19.7},{"x":32,"y":-18.9},{"x":33,"y":-18.1},{"x":34,"y":-17.2},{"x":35,"y":-16.3}]},"mark":{"type":"line","color":"#a24bc4","strokeDash":[5,4],"strokeWidth":1.8,"interpolate":"monotone"}},
{"data":{"values":[{"x":27.25,"y":23.1},{"x":27.5,"y":22.2},{"x":27.75,"y":22.0},{"x":28,"y":22.0},{"x":28.25,"y":22.0},{"x":28.5,"y":22.6},{"x":28.75,"y":21.7},{"x":29,"y":21.3},{"x":29.25,"y":21.3},{"x":29.5,"y":21.1},{"x":29.75,"y":20.8},{"x":30,"y":20.6},{"x":30.25,"y":20.4},{"x":30.5,"y":19.9},{"x":30.75,"y":19.7},{"x":31,"y":19.7},{"x":31.25,"y":19.5},{"x":31.5,"y":19.5},{"x":31.75,"y":19.3},{"x":32,"y":19.1},{"x":32.25,"y":19.0},{"x":32.5,"y":19.0},{"x":32.75,"y":18.6},{"x":33,"y":18.6},{"x":33.25,"y":18.4},{"x":33.5,"y":18.4},{"x":33.75,"y":18.0},{"x":34,"y":17.9},{"x":34.25,"y":17.7},{"x":34.5,"y":17.7}]},"mark":{"type":"square","color":"#808080","size":22,"opacity":1}},
{"data":{"values":[{"x":27.25,"y":-23.5},{"x":27.5,"y":-22.6},{"x":27.75,"y":-22.3},{"x":28,"y":-22.3},{"x":28.25,"y":-21.7},{"x":28.5,"y":-22.3},{"x":28.75,"y":-21.7},{"x":29,"y":-21.7},{"x":29.25,"y":-21.4},{"x":29.5,"y":-21.2},{"x":29.75,"y":-20.8},{"x":30,"y":-20.8},{"x":30.25,"y":-20.8},{"x":30.5,"y":-20.3},{"x":30.75,"y":-19.9},{"x":31,"y":-19.9},{"x":31.25,"y":-19.9},{"x":31.5,"y":-19.6},{"x":31.75,"y":-19.4},{"x":32,"y":-19.4},{"x":32.25,"y":-19.2},{"x":32.5,"y":-18.8},{"x":32.75,"y":-18.8},{"x":33,"y":-18.5},{"x":33.25,"y":-18.3},{"x":33.5,"y":-18.5},{"x":33.75,"y":-17.6},{"x":34,"y":-17.6},{"x":34.25,"y":-17.6},{"x":34.5,"y":-17.9}]},"mark":{"type":"square","color":"#000000","size":22,"opacity":1}},
{"data":{"values":[{"x":27.86,"x2":28.51,"y":0.9}]},"mark":{"type":"rule","color":"#a24bc4","strokeDash":[9,5],"strokeWidth":2.5},"encoding":{"x2":{"field":"x2"}}},
{"data":{"values":[{"x":29.51,"x2":30.15,"y":0.9}]},"mark":{"type":"rule","color":"#2e9a2e","strokeDash":[9,5],"strokeWidth":2.5},"encoding":{"x2":{"field":"x2"}}},
{"data":{"values":[{"x":28.19,"y":-13.1}]},"mark":{"type":"square","color":"#000000","size":22,"opacity":1}},
{"data":{"values":[{"x":29.83,"y":-13.1}]},"mark":{"type":"square","color":"#808080","size":22,"opacity":1}},
{"data":{"values":[{"x":28.25,"y":10.8,"label":"LCP"},{"x":29.85,"y":10.8,"label":"RCP"}]},"mark":{"type":"text","align":"center","baseline":"middle","fontSize":22,"color":"#000000"},"encoding":{"text":{"field":"label"}}},
{"data":{"values":[{"x":30.54,"y":0.9,"label":"Simu."},{"x":30.54,"y":-13.1,"label":"Meas."}]},"mark":{"type":"text","align":"left","baseline":"middle","fontSize":22,"color":"#000000"},"encoding":{"text":{"field":"label"}}}
]
},
{"width":94,"height":225,"view":{"stroke":null},"data":{"values":[]},"mark":"point"},
{"width":289,"height":225,
"title":{"text":"(d)","orient":"bottom","anchor":"middle","frame":"group","offset":10,"fontSize":28,"fontWeight":"normal"},
"encoding":{"x":{"field":"t","type":"quantitative","scale":{"domain":[-90,90],"nice":false,"zero":false},"axis":{"title":"θ (deg)","values":[-90,-60,-30,0,30,60,90]}},
"y":{"field":"v","type":"quantitative","scale":{"domain":[-40,0],"nice":false,"zero":false},"axis":{"title":"CP radiation pattern (dB)","values":[-40,-30,-20,-10,0],"labelPadding":11,"titlePadding":12}}},
"layer":[
{"data":{"values":[
{"t":-90,"v":-39.5,"c":"k","p":"co"},{"t":-80,"v":-37,"c":"k","p":"co"},{"t":-72,"v":-35,"c":"k","p":"co"},{"t":-68,"v":-33.2,"c":"k","p":"co"},{"t":-65,"v":-33,"c":"k","p":"co"},{"t":-62,"v":-35,"c":"k","p":"co"},{"t":-58,"v":-33,"c":"k","p":"co"},{"t":-53.5,"v":-31.8,"c":"k","p":"co"},{"t":-48,"v":-33,"c":"k","p":"co"},{"t":-44,"v":-40,"c":"k","p":"co"},{"t":-41,"v":-46,"c":"k","p":"co"},{"t":-38,"v":-33,"c":"k","p":"co"},{"t":-34,"v":-28.2,"c":"k","p":"co"},{"t":-30,"v":-32,"c":"k","p":"co"},{"t":-26,"v":-46,"c":"k","p":"co"},{"t":-22,"v":-31,"c":"k","p":"co"},{"t":-18,"v":-46,"c":"k","p":"co"},{"t":-15,"v":-36,"c":"k","p":"co"},{"t":-12,"v":-46,"c":"k","p":"co"},{"t":-8,"v":-27,"c":"k","p":"co"},{"t":-6.8,"v":-21.4,"c":"k","p":"co"},{"t":-5.5,"v":-25,"c":"k","p":"co"},{"t":-4.4,"v":-20,"c":"k","p":"co"},{"t":-3,"v":-10,"c":"k","p":"co"},{"t":-2,"v":-5,"c":"k","p":"co"},{"t":-1,"v":-1.3,"c":"k","p":"co"},{"t":0,"v":0,"c":"k","p":"co"},{"t":1,"v":-1.3,"c":"k","p":"co"},{"t":2,"v":-5,"c":"k","p":"co"},{"t":3,"v":-10,"c":"k","p":"co"},{"t":4.5,"v":-20,"c":"k","p":"co"},{"t":5,"v":-24,"c":"k","p":"co"},{"t":5.6,"v":-21.1,"c":"k","p":"co"},{"t":7,"v":-26,"c":"k","p":"co"},{"t":8.5,"v":-46,"c":"k","p":"co"},{"t":11,"v":-30,"c":"k","p":"co"},{"t":14,"v":-46,"c":"k","p":"co"},{"t":17,"v":-25.8,"c":"k","p":"co"},{"t":20,"v":-32,"c":"k","p":"co"},{"t":23,"v":-46,"c":"k","p":"co"},{"t":27,"v":-31,"c":"k","p":"co"},{"t":30,"v":-46,"c":"k","p":"co"},{"t":33.6,"v":-28.5,"c":"k","p":"co"},{"t":38,"v":-35,"c":"k","p":"co"},{"t":42,"v":-46,"c":"k","p":"co"},{"t":46,"v":-36,"c":"k","p":"co"},{"t":50,"v":-38,"c":"k","p":"co"},{"t":54,"v":-40,"c":"k","p":"co"},{"t":58.5,"v":-35.6,"c":"k","p":"co"},{"t":63,"v":-38,"c":"k","p":"co"},{"t":70,"v":-37,"c":"k","p":"co"},{"t":78,"v":-38,"c":"k","p":"co"},{"t":85,"v":-40,"c":"k","p":"co"},{"t":90,"v":-41,"c":"k","p":"co"},
{"t":-90,"v":-37.7,"c":"r","p":"co"},{"t":-86,"v":-40,"c":"r","p":"co"},{"t":-82,"v":-46,"c":"r","p":"co"},{"t":-70,"v":-46,"c":"r","p":"co"},{"t":-64,"v":-38,"c":"r","p":"co"},{"t":-58,"v":-46,"c":"r","p":"co"},{"t":-50,"v":-36,"c":"r","p":"co"},{"t":-45,"v":-46,"c":"r","p":"co"},{"t":-40,"v":-33,"c":"r","p":"co"},{"t":-36,"v":-46,"c":"r","p":"co"},{"t":-32,"v":-30,"c":"r","p":"co"},{"t":-28.6,"v":-27.6,"c":"r","p":"co"},{"t":-25,"v":-46,"c":"r","p":"co"},{"t":-20,"v":-32,"c":"r","p":"co"},{"t":-17,"v":-46,"c":"r","p":"co"},{"t":-14.7,"v":-24.1,"c":"r","p":"co"},{"t":-12,"v":-30,"c":"r","p":"co"},{"t":-9,"v":-46,"c":"r","p":"co"},{"t":-5,"v":-30,"c":"r","p":"co"},{"t":-1,"v":-46,"c":"r","p":"co"},{"t":3,"v":-28,"c":"r","p":"co"},{"t":6,"v":-46,"c":"r","p":"co"},{"t":8,"v":-26,"c":"r","p":"co"},{"t":10,"v":-18,"c":"r","p":"co"},{"t":11.9,"v":-10,"c":"r","p":"co"},{"t":13.5,"v":-3.5,"c":"r","p":"co"},{"t":15.4,"v":-0.5,"c":"r","p":"co"},{"t":17.2,"v":-3.5,"c":"r","p":"co"},{"t":19.1,"v":-10,"c":"r","p":"co"},{"t":21,"v":-20,"c":"r","p":"co"},{"t":22,"v":-30,"c":"r","p":"co"},{"t":23,"v":-46,"c":"r","p":"co"},{"t":25.4,"v":-23.8,"c":"r","p":"co"},{"t":28,"v":-40,"c":"r","p":"co"},{"t":30,"v":-46,"c":"r","p":"co"},{"t":34,"v":-31,"c":"r","p":"co"},{"t":38,"v":-46,"c":"r","p":"co"},{"t":44,"v":-34,"c":"r","p":"co"},{"t":48,"v":-46,"c":"r","p":"co"},{"t":50.2,"v":-31.8,"c":"r","p":"co"},{"t":54,"v":-46,"c":"r","p":"co"},{"t":60,"v":-38,"c":"r","p":"co"},{"t":66,"v":-46,"c":"r","p":"co"},{"t":74,"v":-36,"c":"r","p":"co"},{"t":82,"v":-36,"c":"r","p":"co"},{"t":90,"v":-35,"c":"r","p":"co"},
{"t":-90,"v":-33,"c":"b","p":"co"},{"t":-84,"v":-35.5,"c":"b","p":"co"},{"t":-78,"v":-38,"c":"b","p":"co"},{"t":-72,"v":-42,"c":"b","p":"co"},{"t":-68,"v":-46,"c":"b","p":"co"},{"t":-62,"v":-36,"c":"b","p":"co"},{"t":-57,"v":-46,"c":"b","p":"co"},{"t":-50,"v":-35,"c":"b","p":"co"},{"t":-45,"v":-46,"c":"b","p":"co"},{"t":-40,"v":-30,"c":"b","p":"co"},{"t":-36,"v":-35,"c":"b","p":"co"},{"t":-30.7,"v":-25.2,"c":"b","p":"co"},{"t":-27,"v":-32,"c":"b","p":"co"},{"t":-24,"v":-46,"c":"b","p":"co"},{"t":-18,"v":-32,"c":"b","p":"co"},{"t":-14,"v":-46,"c":"b","p":"co"},{"t":-8,"v":-31,"c":"b","p":"co"},{"t":-4,"v":-46,"c":"b","p":"co"},{"t":0,"v":-33,"c":"b","p":"co"},{"t":4,"v":-46,"c":"b","p":"co"},{"t":8,"v":-30,"c":"b","p":"co"},{"t":12,"v":-46,"c":"b","p":"co"},{"t":16,"v":-32,"c":"b","p":"co"},{"t":20,"v":-46,"c":"b","p":"co"},{"t":23,"v":-25,"c":"b","p":"co"},{"t":24.5,"v":-18,"c":"b","p":"co"},{"t":26.4,"v":-10,"c":"b","p":"co"},{"t":28,"v":-4,"c":"b","p":"co"},{"t":30.1,"v":-1.4,"c":"b","p":"co"},{"t":32,"v":-4,"c":"b","p":"co"},{"t":34.1,"v":-10,"c":"b","p":"co"},{"t":35.5,"v":-18,"c":"b","p":"co"},{"t":36.5,"v":-30,"c":"b","p":"co"},{"t":37.5,"v":-46,"c":"b","p":"co"},{"t":40,"v":-24.5,"c":"b","p":"co"},{"t":42.5,"v":-33,"c":"b","p":"co"},{"t":45,"v":-46,"c":"b","p":"co"},{"t":48.2,"v":-31.8,"c":"b","p":"co"},{"t":52,"v":-46,"c":"b","p":"co"},{"t":56,"v":-38,"c":"b","p":"co"},{"t":60,"v":-46,"c":"b","p":"co"},{"t":66,"v":-38,"c":"b","p":"co"},{"t":72,"v":-46,"c":"b","p":"co"},{"t":80,"v":-40,"c":"b","p":"co"},{"t":86,"v":-38,"c":"b","p":"co"},{"t":90,"v":-36.5,"c":"b","p":"co"},
{"t":-90,"v":-46,"c":"c","p":"co"},{"t":-80,"v":-46,"c":"c","p":"co"},{"t":-75,"v":-40,"c":"c","p":"co"},{"t":-70,"v":-46,"c":"c","p":"co"},{"t":-62,"v":-38,"c":"c","p":"co"},{"t":-56,"v":-46,"c":"c","p":"co"},{"t":-48,"v":-34,"c":"c","p":"co"},{"t":-43,"v":-46,"c":"c","p":"co"},{"t":-36,"v":-34,"c":"c","p":"co"},{"t":-30,"v":-46,"c":"c","p":"co"},{"t":-23.4,"v":-30,"c":"c","p":"co"},{"t":-19,"v":-46,"c":"c","p":"co"},{"t":-12,"v":-33,"c":"c","p":"co"},{"t":-8,"v":-46,"c":"c","p":"co"},{"t":-2,"v":-32,"c":"c","p":"co"},{"t":2,"v":-46,"c":"c","p":"co"},{"t":8,"v":-34,"c":"c","p":"co"},{"t":12,"v":-46,"c":"c","p":"co"},{"t":18,"v":-31,"c":"c","p":"co"},{"t":22,"v":-46,"c":"c","p":"co"},{"t":28,"v":-32,"c":"c","p":"co"},{"t":32,"v":-42,"c":"c","p":"co"},{"t":36,"v":-28,"c":"c","p":"co"},{"t":38.5,"v":-18,"c":"c","p":"co"},{"t":41,"v":-10,"c":"c","p":"co"},{"t":43,"v":-4.5,"c":"c","p":"co"},{"t":45.7,"v":-2.25,"c":"c","p":"co"},{"t":48.5,"v":-4.5,"c":"c","p":"co"},{"t":51.3,"v":-10,"c":"c","p":"co"},{"t":53,"v":-18,"c":"c","p":"co"},{"t":54,"v":-28,"c":"c","p":"co"},{"t":55,"v":-24,"c":"c","p":"co"},{"t":56.5,"v":-23.3,"c":"c","p":"co"},{"t":58,"v":-30,"c":"c","p":"co"},{"t":60,"v":-46,"c":"c","p":"co"},{"t":65,"v":-40,"c":"c","p":"co"},{"t":70,"v":-34,"c":"c","p":"co"},{"t":75,"v":-32.3,"c":"c","p":"co"},{"t":80,"v":-36,"c":"c","p":"co"},{"t":84,"v":-46,"c":"c","p":"co"},{"t":90,"v":-46,"c":"c","p":"co"},
{"t":-90,"v":-46,"c":"m","p":"co"},{"t":-72,"v":-46,"c":"m","p":"co"},{"t":-67,"v":-36,"c":"m","p":"co"},{"t":-63,"v":-28,"c":"m","p":"co"},{"t":-60,"v":-26.2,"c":"m","p":"co"},{"t":-57,"v":-28,"c":"m","p":"co"},{"t":-53,"v":-36,"c":"m","p":"co"},{"t":-49,"v":-46,"c":"m","p":"co"},{"t":-40,"v":-46,"c":"m","p":"co"},{"t":-35,"v":-38,"c":"m","p":"co"},{"t":-30,"v":-46,"c":"m","p":"co"},{"t":-22,"v":-35,"c":"m","p":"co"},{"t":-18,"v":-46,"c":"m","p":"co"},{"t":-12,"v":-36,"c":"m","p":"co"},{"t":-8,"v":-46,"c":"m","p":"co"},{"t":-3,"v":-33,"c":"m","p":"co"},{"t":1,"v":-46,"c":"m","p":"co"},{"t":6,"v":-34,"c":"m","p":"co"},{"t":10,"v":-46,"c":"m","p":"co"},{"t":15,"v":-33,"c":"m","p":"co"},{"t":20,"v":-46,"c":"m","p":"co"},{"t":26,"v":-31,"c":"m","p":"co"},{"t":30,"v":-40,"c":"m","p":"co"},{"t":34,"v":-28,"c":"m","p":"co"},{"t":38,"v":-32,"c":"m","p":"co"},{"t":41,"v":-27,"c":"m","p":"co"},{"t":43,"v":-32,"c":"m","p":"co"},{"t":45,"v":-27,"c":"m","p":"co"},{"t":47,"v":-30,"c":"m","p":"co"},{"t":50,"v":-24,"c":"m","p":"co"},{"t":52.7,"v":-18,"c":"m","p":"co"},{"t":54.4,"v":-10,"c":"m","p":"co"},{"t":56.5,"v":-5.5,"c":"m","p":"co"},{"t":59.6,"v":-4,"c":"m","p":"co"},{"t":62.5,"v":-5,"c":"m","p":"co"},{"t":64.5,"v":-7,"c":"m","p":"co"},{"t":66.8,"v":-10,"c":"m","p":"co"},{"t":69,"v":-15,"c":"m","p":"co"},{"t":71,"v":-20,"c":"m","p":"co"},{"t":73,"v":-27,"c":"m","p":"co"},{"t":75,"v":-28.4,"c":"m","p":"co"},{"t":78,"v":-27,"c":"m","p":"co"},{"t":81,"v":-26.7,"c":"m","p":"co"},{"t":85,"v":-27.2,"c":"m","p":"co"},{"t":90,"v":-28.1,"c":"m","p":"co"},
{"t":-90,"v":-46,"c":"k","p":"x"},{"t":-32,"v":-46,"c":"k","p":"x"},{"t":-28,"v":-38,"c":"k","p":"x"},{"t":-24,"v":-46,"c":"k","p":"x"},{"t":-19,"v":-34,"c":"k","p":"x"},{"t":-15,"v":-46,"c":"k","p":"x"},{"t":-11,"v":-32,"c":"k","p":"x"},{"t":-7,"v":-46,"c":"k","p":"x"},{"t":-4,"v":-30,"c":"k","p":"x"},{"t":-2,"v":-24,"c":"k","p":"x"},{"t":0,"v":-20.5,"c":"k","p":"x"},{"t":2,"v":-23,"c":"k","p":"x"},{"t":3,"v":-28,"c":"k","p":"x"},{"t":4,"v":-24,"c":"k","p":"x"},{"t":5.6,"v":-21,"c":"k","p":"x"},{"t":7,"v":-26,"c":"k","p":"x"},{"t":9,"v":-46,"c":"k","p":"x"},{"t":12,"v":-31,"c":"k","p":"x"},{"t":15,"v":-46,"c":"k","p":"x"},{"t":19,"v":-33,"c":"k","p":"x"},{"t":23,"v":-46,"c":"k","p":"x"},{"t":27,"v":-37,"c":"k","p":"x"},{"t":30,"v":-46,"c":"k","p":"x"},{"t":90,"v":-46,"c":"k","p":"x"},
{"t":-90,"v":-46,"c":"r","p":"x"},{"t":-30,"v":-46,"c":"r","p":"x"},{"t":-26,"v":-38,"c":"r","p":"x"},{"t":-22,"v":-46,"c":"r","p":"x"},{"t":-17,"v":-33,"c":"r","p":"x"},{"t":-13,"v":-46,"c":"r","p":"x"},{"t":-9,"v":-30,"c":"r","p":"x"},{"t":-6,"v":-46,"c":"r","p":"x"},{"t":-3,"v":-27,"c":"r","p":"x"},{"t":-1,"v":-19.5,"c":"r","p":"x"},{"t":1,"v":-21,"c":"r","p":"x"},{"t":2.5,"v":-27,"c":"r","p":"x"},{"t":4.5,"v":-22,"c":"r","p":"x"},{"t":6,"v":-24,"c":"r","p":"x"},{"t":8,"v":-46,"c":"r","p":"x"},{"t":11,"v":-29,"c":"r","p":"x"},{"t":14,"v":-46,"c":"r","p":"x"},{"t":18,"v":-31,"c":"r","p":"x"},{"t":22,"v":-46,"c":"r","p":"x"},{"t":26,"v":-38,"c":"r","p":"x"},{"t":29,"v":-46,"c":"r","p":"x"},{"t":90,"v":-46,"c":"r","p":"x"},
{"t":-90,"v":-46,"c":"b","p":"x"},{"t":-34,"v":-46,"c":"b","p":"x"},{"t":-30,"v":-37,"c":"b","p":"x"},{"t":-26,"v":-46,"c":"b","p":"x"},{"t":-21,"v":-35,"c":"b","p":"x"},{"t":-17,"v":-46,"c":"b","p":"x"},{"t":-12,"v":-31,"c":"b","p":"x"},{"t":-8,"v":-46,"c":"b","p":"x"},{"t":-4,"v":-29,"c":"b","p":"x"},{"t":-1.5,"v":-21,"c":"b","p":"x"},{"t":0,"v":-20.5,"c":"b","p":"x"},{"t":2,"v":-24,"c":"b","p":"x"},{"t":3.5,"v":-27,"c":"b","p":"x"},{"t":5,"v":-21.5,"c":"b","p":"x"},{"t":7,"v":-27,"c":"b","p":"x"},{"t":9,"v":-46,"c":"b","p":"x"},{"t":13,"v":-30,"c":"b","p":"x"},{"t":16,"v":-46,"c":"b","p":"x"},{"t":20,"v":-34,"c":"b","p":"x"},{"t":24,"v":-46,"c":"b","p":"x"},{"t":90,"v":-46,"c":"b","p":"x"},
{"t":-90,"v":-46,"c":"c","p":"x"},{"t":-28,"v":-46,"c":"c","p":"x"},{"t":-24,"v":-37,"c":"c","p":"x"},{"t":-20,"v":-46,"c":"c","p":"x"},{"t":-15,"v":-33,"c":"c","p":"x"},{"t":-11,"v":-46,"c":"c","p":"x"},{"t":-7,"v":-31,"c":"c","p":"x"},{"t":-4,"v":-46,"c":"c","p":"x"},{"t":-1,"v":-22,"c":"c","p":"x"},{"t":0.5,"v":-21.5,"c":"c","p":"x"},{"t":2,"v":-26,"c":"c","p":"x"},{"t":4,"v":-23,"c":"c","p":"x"},{"t":6,"v":-28,"c":"c","p":"x"},{"t":8,"v":-46,"c":"c","p":"x"},{"t":12,"v":-32,"c":"c","p":"x"},{"t":15,"v":-46,"c":"c","p":"x"},{"t":19,"v":-35,"c":"c","p":"x"},{"t":22,"v":-46,"c":"c","p":"x"},{"t":90,"v":-46,"c":"c","p":"x"},
{"t":-90,"v":-46,"c":"m","p":"x"},{"t":-30,"v":-46,"c":"m","p":"x"},{"t":-26,"v":-36,"c":"m","p":"x"},{"t":-22,"v":-46,"c":"m","p":"x"},{"t":-16,"v":-32,"c":"m","p":"x"},{"t":-12,"v":-46,"c":"m","p":"x"},{"t":-8,"v":-33,"c":"m","p":"x"},{"t":-5,"v":-46,"c":"m","p":"x"},{"t":-1,"v":-22.5,"c":"m","p":"x"},{"t":1,"v":-23,"c":"m","p":"x"},{"t":3,"v":-30,"c":"m","p":"x"},{"t":5,"v":-23,"c":"m","p":"x"},{"t":7,"v":-30,"c":"m","p":"x"},{"t":9,"v":-46,"c":"m","p":"x"},{"t":14,"v":-33,"c":"m","p":"x"},{"t":17,"v":-46,"c":"m","p":"x"},{"t":21,"v":-36,"c":"m","p":"x"},{"t":25,"v":-46,"c":"m","p":"x"},{"t":90,"v":-46,"c":"m","p":"x"}
]},
"mark":{"type":"line","strokeWidth":1.5,"clip":true,"interpolate":"monotone","opacity":0.85},
"encoding":{"color":{"field":"c","type":"nominal","scale":{"domain":["k","r","b","c","m"],"range":["#404040","#ff3a3a","#3a3aff","#2ee8e8","#f23cf2"]},"legend":null},
"strokeDash":{"field":"p","type":"nominal","scale":{"domain":["co","x"],"range":[[1,0],[2,2]]},"legend":null}}},
{"data":{"values":[{"t":-84.8,"v":-3.0,"label":"Solid line:"},{"t":-84.8,"v":-7.4,"label":"LCP"},{"t":-84.8,"v":-12.3,"label":"Dashed line:"},{"t":-84.8,"v":-16.9,"label":"RCP"}]},"mark":{"type":"text","align":"left","baseline":"middle","fontSize":22,"color":"#000000"},"encoding":{"text":{"field":"label"}}},
{"data":{"values":[{"t":-80.7,"v":-22.8,"label":"Ka-band"}]},"mark":{"type":"text","align":"left","baseline":"middle","fontSize":22,"color":"#5a2d8c"},"encoding":{"text":{"field":"label"}}}
]
}
]
}
